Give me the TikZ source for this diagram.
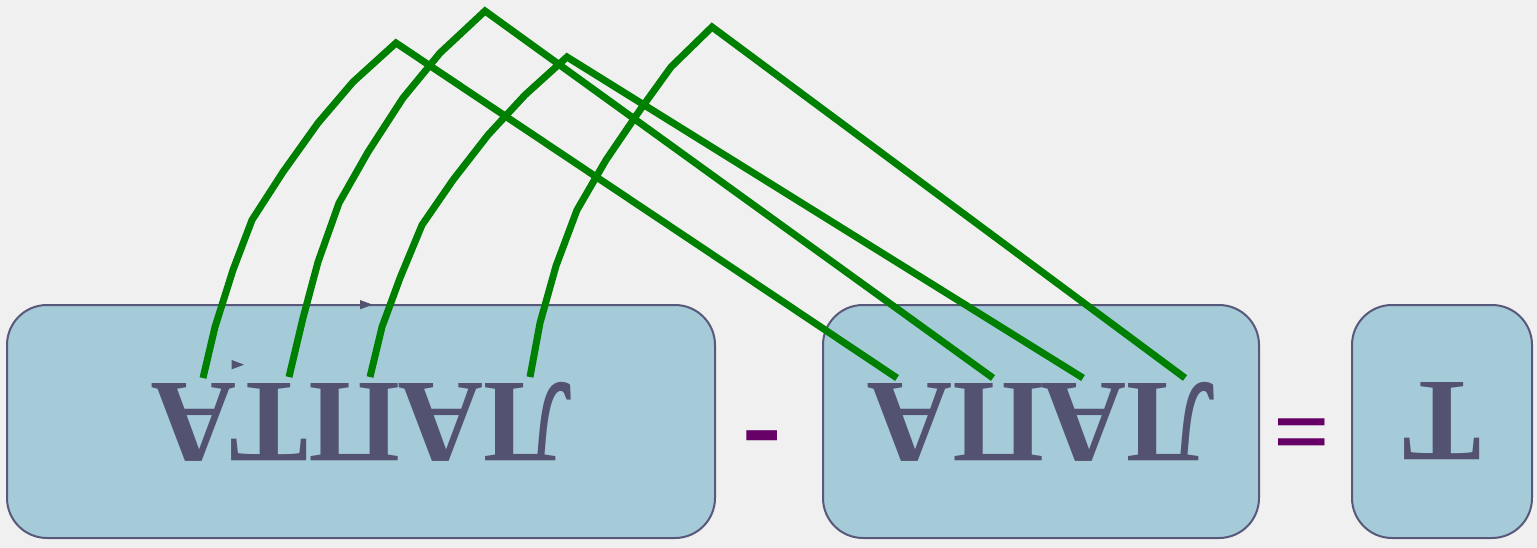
\documentclass[tikz,border=0pt]{standalone}
\usepackage{fontspec}
\setmainfont{Liberation Serif}
\definecolor{myBack}{RGB}{240,240,240}
\definecolor{myBox}{RGB}{166,203,216}
\definecolor{myFrame}{RGB}{88,88,122}
\definecolor{myText}{RGB}{83,82,112}
\definecolor{myGreen}{RGB}{0,128,0}
\definecolor{myPurple}{RGB}{102,0,102}
\usetikzlibrary{arrows.meta}

\begin{document}
\begin{tikzpicture}[x=1pt,y=-1pt,
    wordbox/.style={draw=myFrame, line width=2pt, fill=myBox, rounded corners=40pt,
        text=myText, font=\fontsize{118}{120}\selectfont\bfseries, rotate=180, inner sep=0pt,
        minimum height=233pt},
    link/.style={draw=myGreen, line width=7pt},
    sign/.style={text=myPurple, inner sep=0pt, anchor=north}]
                \fill[myBack] (0,0) rectangle (1537,548);
                \useasboundingbox (0,0) rectangle (1537,548);

                \node[wordbox, minimum width=708pt] (lapta) at (361,421.5) {ЛАПТА};
                \node[wordbox, minimum width=436pt] (lapa) at (1041,421.5) {ЛАПА};
                \node[wordbox, minimum width=180pt] (te) at (1442,421.5) {Т};
                \node[sign, font=\fontsize{118}{120}\selectfont\bfseries] (minus) at (762.5,431) {-};
                \node[sign, font=\fontsize{100}{102}\selectfont\bfseries] (equal) at (1301.5,419) {=};

                \fill[myText] (360,300) -- (372.7,304.7) -- (360,309.3) -- cycle;
                \fill[myText] (231.7,360) -- (244,364.7) -- (231.7,369.3) -- cycle;

                \coordinate (l1) at (203,378);
                \coordinate (l2) at (289,377);
                \coordinate (l3) at (370,377);
                \coordinate (l4) at (530,377);
                \coordinate (r1) at (897,378);
                \coordinate (r2) at (993,378);
                \coordinate (r3) at (1083,378);
                \coordinate (r4) at (1185,378);

                \draw[link] (l1) -- (215,327) -- (233,270) -- (252,220) -- (283,172) -- (318,123) -- (353,82) -- (396,43) -- (r1);
                \draw[link] (l2) -- (303,318) -- (318,262) -- (339,203) -- (368,152) -- (403,98) -- (440,53) -- (485,11) -- (r2);
                \draw[link] (l3) -- (382,327) -- (400,278) -- (422,225) -- (453,180) -- (488,135) -- (525,95) -- (567,57) -- (r3);
                \draw[link] (l4) -- (540,323) -- (556,266) -- (577,210) -- (606,160) -- (640,110) -- (671,67) -- (712,27) -- (r4);
\end{tikzpicture}
\end{document}
